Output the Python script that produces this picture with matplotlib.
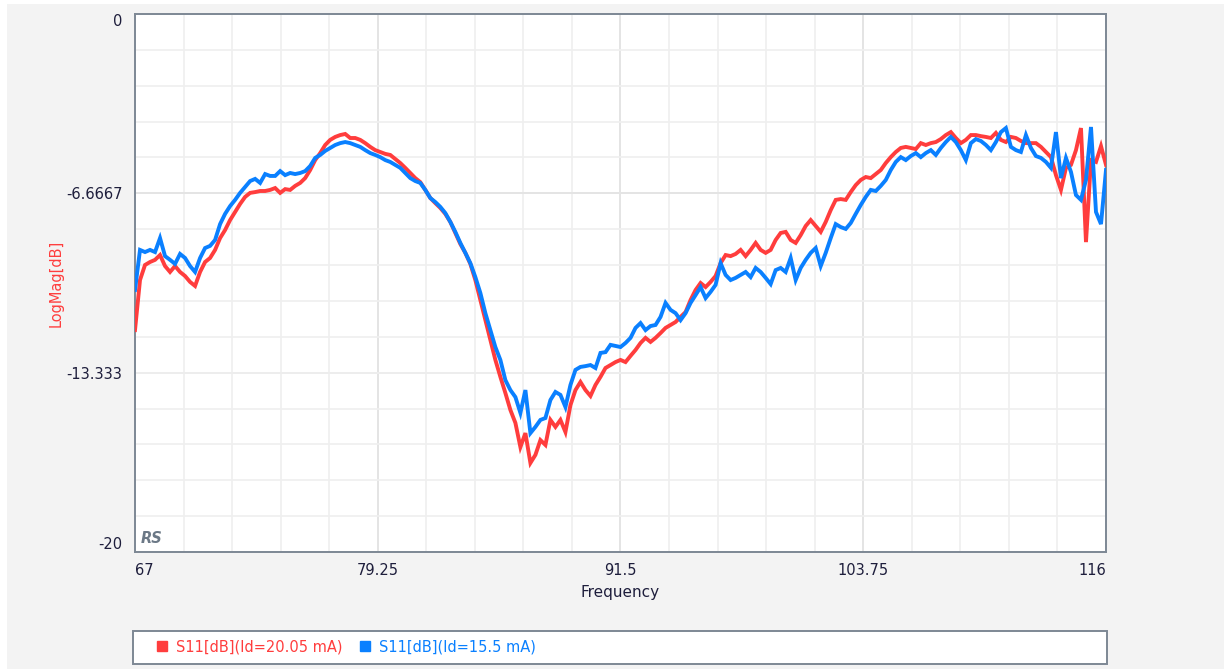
"""
График S11 (LogMag, дБ) для двух токов стока.
Значения сняты с картинки через каждые ~0.25 ГГц.
"""

from __future__ import annotations

import matplotlib
matplotlib.use("Agg")
import matplotlib.pyplot as plt
import numpy as np
from matplotlib.lines import Line2D
from matplotlib.patches import Rectangle
from matplotlib.ticker import FixedLocator

# Данные

# частотная развёртка анализатора: от 67 до 116 ГГц, точки идут равномерно
FREQ_START = 67.0
FREQ_STOP = 116.0

X_TICKS = [67, 79.25, 91.5, 103.75, 116]
X_TICK_LABELS = ["67", "79.25", "91.5", "103.75", "116"]
Y_TICKS = [0, -6.6667, -13.333, -20]
Y_TICK_LABELS = ["0", "-6.6667", "-13.333", "-20"]

LABEL_RED = "S11[dB](Id=20.05 mA)"
LABEL_BLUE = "S11[dB](Id=15.5 mA)"

s11_id_20_05 = [
    -11.75, -9.89, -9.33, -9.22, -9.14, -8.96, -9.37, -9.59, -9.37, -9.59,
    -9.74, -9.96, -10.11, -9.59, -9.22, -9.07, -8.77, -8.33, -8.03, -7.66,
    -7.36, -7.06, -6.80, -6.65, -6.62, -6.58, -6.58, -6.54, -6.47, -6.65,
    -6.51, -6.54, -6.39, -6.28, -6.10, -5.80, -5.43, -5.17, -4.87, -4.68,
    -4.57, -4.50, -4.46, -4.61, -4.61, -4.68, -4.80, -4.94, -5.06, -5.13,
    -5.20, -5.24, -5.39, -5.54, -5.72, -5.91, -6.10, -6.25, -6.54, -6.84,
    -7.03, -7.21, -7.43, -7.73, -8.14, -8.55, -8.88, -9.29, -9.89, -10.63,
    -11.38, -12.12, -12.86, -13.49, -14.09, -14.72, -15.20, -16.10, -15.58, -16.69,
    -16.39, -15.84, -16.02, -15.09, -15.35, -15.09, -15.54, -14.54, -13.98, -13.68,
    -13.98, -14.20, -13.79, -13.49, -13.16, -13.05, -12.94, -12.86, -12.94, -12.71,
    -12.49, -12.23, -12.04, -12.19, -12.04, -11.86, -11.67, -11.56, -11.45, -11.26,
    -11.08, -10.63, -10.26, -10.00, -10.15, -9.96, -9.74, -9.26, -8.96, -9.00,
    -8.92, -8.77, -9.00, -8.77, -8.51, -8.77, -8.88, -8.77, -8.40, -8.14,
    -8.10, -8.40, -8.51, -8.22, -7.88, -7.66, -7.88, -8.10, -7.73, -7.29,
    -6.91, -6.88, -6.91, -6.62, -6.36, -6.17, -6.06, -6.10, -5.95, -5.80,
    -5.54, -5.32, -5.13, -4.98, -4.94, -4.98, -5.02, -4.80, -4.87, -4.80,
    -4.76, -4.65, -4.50, -4.39, -4.61, -4.80, -4.68, -4.50, -4.50, -4.54,
    -4.57, -4.61, -4.42, -4.68, -4.76, -4.57, -4.61, -4.72, -4.80, -4.80,
    -4.80, -4.94, -5.13, -5.32, -5.99, -6.54, -5.72, -5.61, -5.06, -4.24,
    -8.48, -5.43, -5.50, -4.91, -5.61,
]

s11_id_15_5 = [
    -10.26, -8.77, -8.85, -8.77, -8.85, -8.33, -9.00, -9.14, -9.29, -8.92,
    -9.07, -9.37, -9.59, -9.07, -8.70, -8.62, -8.40, -7.81, -7.43, -7.14,
    -6.91, -6.65, -6.43, -6.21, -6.13, -6.28, -5.95, -6.02, -6.02, -5.84,
    -5.99, -5.91, -5.95, -5.91, -5.84, -5.65, -5.35, -5.24, -5.09, -4.98,
    -4.87, -4.80, -4.76, -4.80, -4.87, -4.94, -5.06, -5.17, -5.24, -5.32,
    -5.43, -5.50, -5.61, -5.72, -5.91, -6.10, -6.21, -6.28, -6.54, -6.84,
    -6.99, -7.17, -7.40, -7.73, -8.10, -8.51, -8.88, -9.26, -9.78, -10.37,
    -11.12, -11.75, -12.38, -12.86, -13.61, -13.98, -14.24, -14.83, -13.98, -15.58,
    -15.35, -15.09, -15.02, -14.35, -14.05, -14.16, -14.61, -13.79, -13.23, -13.12,
    -13.09, -13.05, -13.16, -12.60, -12.57, -12.30, -12.34, -12.38, -12.23, -12.04,
    -11.67, -11.49, -11.75, -11.60, -11.56, -11.26, -10.74, -11.00, -11.12, -11.38,
    -11.12, -10.74, -10.45, -10.15, -10.56, -10.33, -10.07, -9.26, -9.70, -9.89,
    -9.81, -9.70, -9.59, -9.78, -9.44, -9.59, -9.81, -10.04, -9.52, -9.44,
    -9.59, -9.07, -9.89, -9.44, -9.14, -8.88, -8.70, -9.37, -8.88, -8.33,
    -7.81, -7.92, -7.99, -7.77, -7.43, -7.10, -6.80, -6.54, -6.58, -6.39,
    -6.17, -5.80, -5.50, -5.32, -5.43, -5.28, -5.17, -5.32, -5.17, -5.06,
    -5.24, -4.98, -4.76, -4.57, -4.76, -5.06, -5.43, -4.80, -4.65, -4.72,
    -4.87, -5.06, -4.76, -4.39, -4.24, -4.94, -5.06, -5.13, -4.50, -4.98,
    -5.28, -5.35, -5.50, -5.72, -4.39, -6.10, -5.35, -5.87, -6.73, -6.91,
    -6.17, -4.20, -7.36, -7.81, -5.80,
]

# Цвета и оформление

BG_COLOR = "#f3f3f3"
RED = "#ff3d3d"
BLUE = "#0a80ff"
TEXT_COLOR = "#1e1e3c"
SPINE_COLOR = "#7d8894"


def build_plot(output_path: str = "out.png") -> None:
    fig = plt.figure(figsize=(12.24, 6.69), dpi=100)
    fig.patch.set_facecolor(BG_COLOR)

    # белая полоска слева и сверху, как на скриншоте
    fig.patches.append(Rectangle((0, 0), 7 / 1224, 1, transform=fig.transFigure,
                                 facecolor="white", edgecolor="none", zorder=0))
    fig.patches.append(Rectangle((0, 1 - 4 / 669), 1, 4 / 669, transform=fig.transFigure,
                                 facecolor="white", edgecolor="none", zorder=0))

    ax = fig.add_axes([135 / 1224, 1 - 552 / 669, 971 / 1224, 538 / 669])
    ax.set_facecolor("white")

    freq_red = np.linspace(FREQ_START, FREQ_STOP, len(s11_id_20_05))
    freq_blue = np.linspace(FREQ_START, FREQ_STOP, len(s11_id_15_5))

    ax.plot(freq_red, s11_id_20_05, color=RED, lw=2.8, solid_joinstyle="miter", zorder=3)
    ax.plot(freq_blue, s11_id_15_5, color=BLUE, lw=2.8, solid_joinstyle="miter", zorder=4)

    ax.set_xlim(FREQ_START, FREQ_STOP)
    ax.set_ylim(-20, 0)

    # сетка: 5 делений между основными метками
    ax.xaxis.set_major_locator(FixedLocator(X_TICKS))
    ax.xaxis.set_minor_locator(FixedLocator(np.linspace(FREQ_START, FREQ_STOP, 21)))
    ax.yaxis.set_major_locator(FixedLocator(Y_TICKS))
    ax.yaxis.set_minor_locator(FixedLocator(np.linspace(-20, 0, 16)))
    ax.set_xticklabels(X_TICK_LABELS)
    ax.set_yticklabels(Y_TICK_LABELS)
    ax.grid(which="minor", color="#efefef", lw=1.2, zorder=0)
    ax.grid(which="major", color="#e4e4e4", lw=1.4, zorder=0)
    ax.set_axisbelow(True)

    ax.tick_params(which="both", length=0)
    ax.tick_params(axis="x", pad=8, labelsize=10.5, labelcolor=TEXT_COLOR)
    ax.tick_params(axis="y", pad=9, labelsize=10.5, labelcolor=TEXT_COLOR)

    xlabels = ax.get_xticklabels()
    xlabels[0].set_ha("left")
    xlabels[-1].set_ha("right")
    ylabels = ax.get_yticklabels()
    ylabels[0].set_va("top")
    ylabels[-1].set_va("bottom")

    for side, spine in ax.spines.items():
        spine.set_color(SPINE_COLOR)
        spine.set_linewidth(1.4)

    ax.set_xlabel("Frequency", fontsize=11, color=TEXT_COLOR, labelpad=5)
    ax.set_ylabel("LogMag[dB]", fontsize=10.5, color=RED, labelpad=2)

    ax.text(0.006, 0.012, "RS", transform=ax.transAxes, fontsize=10.5,
            fontstyle="italic", fontweight="bold", color="#6b7886",
            ha="left", va="bottom", zorder=5)

    # легенда в отдельной рамке во всю ширину графика
    fig.patches.append(Rectangle((133 / 1224, 1 - 664 / 669), 974 / 1224, 33 / 669,
                                 transform=fig.transFigure, facecolor="white",
                                 edgecolor=SPINE_COLOR, lw=1.4, zorder=1))
    handles = [
        Line2D([], [], ls="", marker="s", markersize=6.5, color=RED),
        Line2D([], [], ls="", marker="s", markersize=6.5, color=BLUE),
    ]
    fig.legend(handles, [LABEL_RED, LABEL_BLUE], loc="center left",
               bbox_to_anchor=(150 / 1224, 1 - 647 / 669), ncol=2, frameon=False,
               labelcolor="linecolor", fontsize=10.5, handlelength=0.7,
               handletextpad=0.6, columnspacing=1.2, borderpad=0)

    fig.savefig(output_path, dpi=100, facecolor=fig.get_facecolor())
    plt.close(fig)


if __name__ == "__main__":
    build_plot()
